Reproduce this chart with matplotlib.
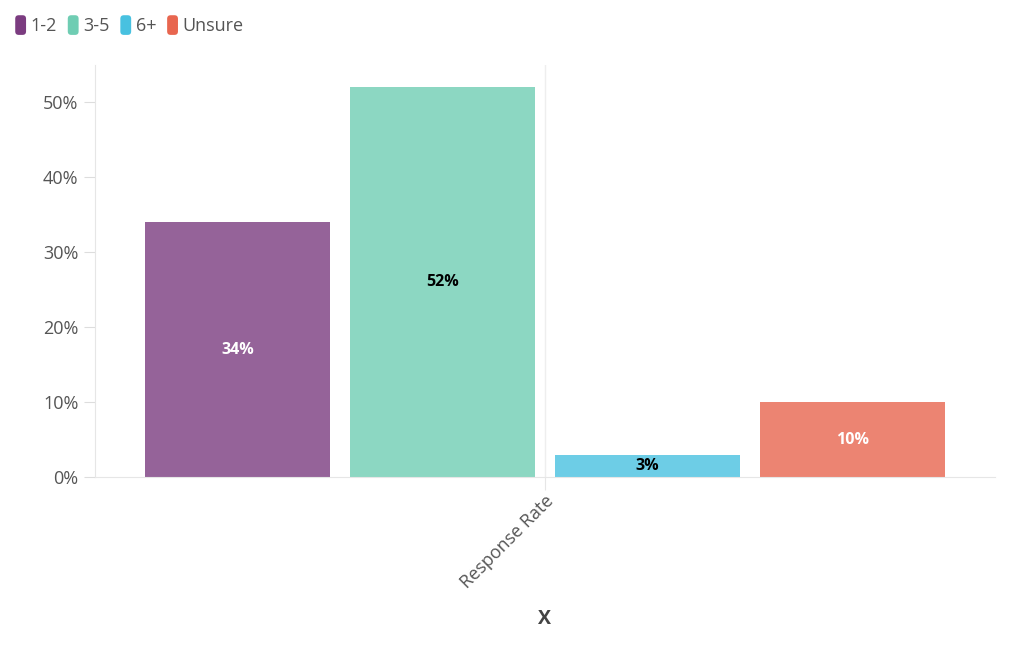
import matplotlib
matplotlib.use("Agg")
import matplotlib.pyplot as plt
from matplotlib.patches import Patch, FancyBboxPatch
from matplotlib.legend_handler import HandlerPatch
import numpy as np

categories = ["Response Rate"]
series = ["1-2", "3-5", "6+", "Unsure"]
values = [34, 52, 3, 10]
labels = ["34%", "52%", "3%", "10%"]
colors = ["#7b3c80", "#6fcdb3", "#48c1e0", "#e8664f"]
label_colors = ["white", "black", "black", "white"]
yticks = [0, 10, 20, 30, 40, 50]

plt.rcParams['font.family'] = ['Open Sans', 'DejaVu Sans']


class RoundHandler(HandlerPatch):
    def create_artists(self, legend, orig_handle, xdescent, ydescent, width, height, fontsize, trans):
        p = FancyBboxPatch((-xdescent, -ydescent), width, height,
                           boxstyle="round,pad=0,rounding_size=2.5",
                           facecolor=orig_handle.get_facecolor(), edgecolor='none',
                           transform=trans)
        return [p]


fig = plt.figure(figsize=(10.24, 6.6), dpi=100)
ax = fig.add_axes([95/1024, 1-477/660, 900/1024, (477-65)/660])

bw = 185/900
step = 205/900
n = len(series)
for i, (s, v) in enumerate(zip(series, values)):
    x = (i - (n-1)/2) * step
    ax.bar(x, v, width=bw, color=colors[i], alpha=0.8, edgecolor='none', zorder=2)
    ax.text(x, v/2, labels[i], ha='center', va='center', color=label_colors[i],
            fontsize=11.5, fontweight='bold', zorder=3)

ax.set_xlim(-0.5, 0.5)
ax.set_ylim(0, 55)
ax.set_yticks(yticks)
ax.set_yticklabels([f"{t}%" for t in yticks])
ax.set_xticks([0])
ax.set_xticklabels(categories, rotation=45, ha='right', rotation_mode='anchor')
ax.tick_params(axis='y', length=8, color='#dddddd', labelsize=13, labelcolor='#555555', pad=4)
ax.tick_params(axis='x', length=9, color='#e6e6e6', labelsize=13, labelcolor='#555555', pad=2)
ax.axvline(0, color='#eeeeee', lw=1, zorder=1)
for sp in ['top', 'right']:
    ax.spines[sp].set_visible(False)
ax.spines['left'].set_color('#e6e6e6')
ax.spines['bottom'].set_color('#e6e6e6')
ax.set_xlabel("X", fontsize=14, color='#444444', fontweight='bold', labelpad=12)

handles = [Patch(facecolor=c, edgecolor='none', label=s) for c, s in zip(colors, series)]
fig.legend(handles=handles, loc='upper left', bbox_to_anchor=(8/1024, 1-8/660), ncol=4,
           frameon=False, handlelength=0.6, handleheight=1.3, handletextpad=0.25,
           columnspacing=0.6, borderaxespad=0, prop={'size': 13},
           labelcolor='#555555', handler_map={Patch: RoundHandler()})

fig.savefig("out.png", dpi=100)
